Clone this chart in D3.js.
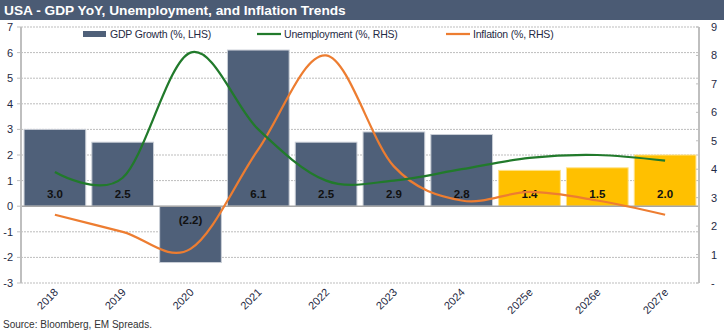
<!DOCTYPE html>
<html>
<head>
<meta charset="utf-8">
<script src="https://d3js.org/d3.v7.min.js"></script>
<style>
body { margin: 0; background: white; }
text { font-family: "Liberation Sans", Arial, sans-serif; }
</style>
</head>
<body>
<div id="dataviz"></div>
<script>

// chart data
var years = ['2018','2019','2020','2021','2022','2023','2024','2025e','2026e','2027e'];
var gdpGrowth = [3.0, 2.5, -2.2, 6.1, 2.5, 2.9, 2.8, 1.4, 1.5, 2.0];
var unemployment = [3.9, 3.7, 8.1, 5.4, 3.6, 3.6, 4.0, 4.4, 4.5, 4.3];
var inflation = [2.4, 1.8, 1.2, 4.7, 8.0, 4.1, 2.9, 3.2, 2.9, 2.4];
var leftTicks = [-3,-2,-1,0,1,2,3,4,5,6,7];
var rightTicks = [0,1,2,3,4,5,6,7,8,9];
var estimateYears = ['2025e','2026e','2027e'];

var W = 724, H = 334;
var plotLeft = 21, plotRight = 699, plotTop = 27, plotBottom = 283;

var svg = d3.select("#dataviz")
  .append("svg")
  .attr("width", W)
  .attr("height", H);

// title bar
svg.append("rect")
  .attr("x", 0).attr("y", 0)
  .attr("width", W).attr("height", 20)
  .style("fill", "#4b5b74");
svg.append("text")
  .attr("x", 4).attr("y", 15)
  .style("font-size", "13.7px")
  .style("font-weight", "bold")
  .style("fill", "white")
  .text("USA - GDP YoY, Unemployment, and Inflation Trends");

var xscale = d3.scaleBand()
  .domain(years)
  .range([plotLeft, plotRight])
  .paddingInner(0.09)
  .paddingOuter(0.045);

var yleft = d3.scaleLinear().domain([-3, 7]).range([plotBottom, plotTop]);
var yright = d3.scaleLinear().domain([0, 9]).range([plotBottom, plotTop]);

// dotted gridlines
svg.append("g")
  .selectAll("line").data(leftTicks.filter(function(d){ return d != 0; })).enter()
  .append("line")
  .attr("x1", plotLeft).attr("x2", plotRight)
  .attr("y1", function(d){ return yleft(d); })
  .attr("y2", function(d){ return yleft(d); })
  .style("stroke", "#bdbdbd")
  .style("stroke-width", 1)
  .style("stroke-dasharray", "2,1");

// bars
svg.append("g")
  .selectAll("rect").data(years).enter()
  .append("rect")
  .attr("x", function(d){ return xscale(d); })
  .attr("width", xscale.bandwidth())
  .attr("y", function(d,i){ return yleft(Math.max(0, gdpGrowth[i])); })
  .attr("height", function(d,i){ return Math.abs(yleft(gdpGrowth[i]) - yleft(0)); })
  .style("fill", function(d){ return estimateYears.indexOf(d) >= 0 ? "#ffc000" : "#4f6079"; })
  .style("stroke", function(d){ return estimateYears.indexOf(d) >= 0 ? "#ffe28a" : "#c9ced6"; })
  .style("stroke-width", 1);

// zero line
svg.append("line")
  .attr("x1", plotLeft).attr("x2", plotRight)
  .attr("y1", yleft(0)).attr("y2", yleft(0))
  .style("stroke", "#a6a6a6")
  .style("stroke-width", 1.5);

// bar labels
svg.append("g")
  .selectAll("text").data(years).enter()
  .append("text")
  .attr("x", function(d){ return xscale(d) + xscale.bandwidth() / 2; })
  .attr("y", function(d,i){ return gdpGrowth[i] >= 0 ? yleft(0) - 8 : yleft(0) + 18; })
  .style("text-anchor", "middle")
  .style("font-size", "11.5px")
  .style("font-weight", "bold")
  .style("fill", "#111")
  .text(function(d,i){
    var v = gdpGrowth[i];
    return v < 0 ? "(" + Math.abs(v).toFixed(1) + ")" : v.toFixed(1);
  });

// smoothed lines on right axis
var line = d3.line()
  .x(function(d,i){ return xscale(years[i]) + xscale.bandwidth() / 2; })
  .y(function(d){ return yright(d); })
  .curve(d3.curveCatmullRom.alpha(0));

svg.append("path")
  .datum(inflation)
  .attr("d", line)
  .style("fill", "none")
  .style("stroke", "#ed7d31")
  .style("stroke-width", 2.25);

svg.append("path")
  .datum(unemployment)
  .attr("d", line)
  .style("fill", "none")
  .style("stroke", "#217a2b")
  .style("stroke-width", 2.25);

// left axis
svg.append("line")
  .attr("x1", plotLeft).attr("x2", plotLeft)
  .attr("y1", plotTop).attr("y2", plotBottom)
  .style("stroke", "#bfbfbf").style("stroke-width", 2);
svg.append("g")
  .selectAll("line").data(leftTicks).enter()
  .append("line")
  .attr("x1", plotLeft - 4).attr("x2", plotLeft)
  .attr("y1", function(d){ return yleft(d); })
  .attr("y2", function(d){ return yleft(d); })
  .style("stroke", "#bfbfbf").style("stroke-width", 1);
svg.append("g")
  .selectAll("text").data(leftTicks).enter()
  .append("text")
  .attr("x", 13)
  .attr("y", function(d){ return yleft(d) + 4; })
  .style("text-anchor", "end")
  .style("font-size", "11px")
  .style("fill", "#1f2a44")
  .text(function(d){ return d; });

// right axis
svg.append("line")
  .attr("x1", plotRight).attr("x2", plotRight)
  .attr("y1", plotTop).attr("y2", plotBottom)
  .style("stroke", "#bfbfbf").style("stroke-width", 2);
svg.append("g")
  .selectAll("line").data(rightTicks).enter()
  .append("line")
  .attr("x1", plotRight - 3).attr("x2", plotRight)
  .attr("y1", function(d){ return yright(d); })
  .attr("y2", function(d){ return yright(d); })
  .style("stroke", "#bfbfbf").style("stroke-width", 1);
svg.append("g")
  .selectAll("text").data(rightTicks).enter()
  .append("text")
  .attr("x", 711)
  .attr("y", function(d){ return yright(d) + 4; })
  .style("font-size", "11px")
  .style("fill", "#1f2a44")
  .text(function(d){ return d == 0 ? "-" : d; });

// x labels
svg.append("g")
  .selectAll("text").data(years).enter()
  .append("text")
  .attr("transform", function(d){
    return "translate(" + (xscale(d) + xscale.bandwidth() / 2 + 4) + "," + 293 + ") rotate(-45)";
  })
  .style("text-anchor", "end")
  .style("font-size", "11px")
  .style("fill", "#1f2a44")
  .text(function(d){ return d; });

// legend
var legend = svg.append("g")
  .style("font-size", "10.5px")
  .style("letter-spacing", "-0.2px")
  .style("fill", "#1f2a44");
legend.append("rect")
  .attr("x", 83).attr("y", 31).attr("width", 23).attr("height", 6)
  .style("fill", "#4f6079");
legend.append("text").attr("x", 110).attr("y", 38)
  .text("GDP Growth (%, LHS)");
legend.append("line")
  .attr("x1", 257).attr("x2", 281).attr("y1", 34).attr("y2", 34)
  .style("stroke", "#217a2b").style("stroke-width", 2.25);
legend.append("text").attr("x", 284).attr("y", 38)
  .text("Unemployment (%, RHS)");
legend.append("line")
  .attr("x1", 446).attr("x2", 470).attr("y1", 34).attr("y2", 34)
  .style("stroke", "#ed7d31").style("stroke-width", 2.25);
legend.append("text").attr("x", 473).attr("y", 38)
  .text("Inflation (%, RHS)");

// source note
svg.append("text")
  .attr("x", 3).attr("y", 328)
  .style("font-size", "10px")
  .style("fill", "#333")
  .text("Source: Bloomberg, EM Spreads.");

</script>
</body>
</html>
